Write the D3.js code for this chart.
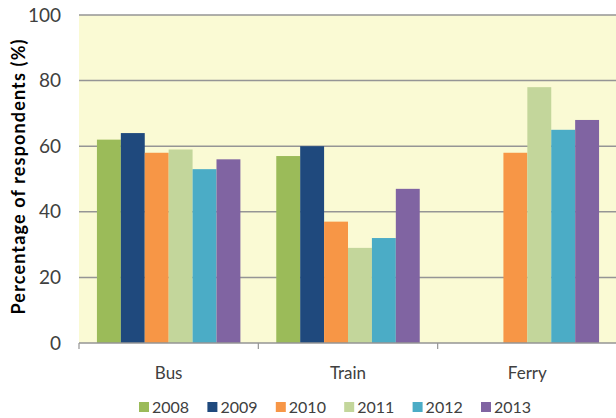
<!DOCTYPE html>
<html><head><meta charset="utf-8">
<script src="https://cdn.jsdelivr.net/npm/d3@7"></script>
<style>body{margin:0;background:#fff;} text{font-family:Lato, "Open Sans", sans-serif;}</style>
</head><body>
<svg id="c" width="616" height="418"></svg>
<script>
const categories = ["Bus", "Train", "Ferry"];
const years = ["2008", "2009", "2010", "2011", "2012", "2013"];
const colors = ["#9BBB59", "#1F497D", "#F79646", "#C3D69B", "#4BACC6", "#8064A2"];
const v2008 = [62, 57, null];
const v2009 = [64, 60, null];
const v2010 = [58, 37, 58];
const v2011 = [59, 29, 78];
const v2012 = [53, 32, 65];
const v2013 = [56, 47, 68];
const series = [v2008, v2009, v2010, v2011, v2012, v2013];
const yTicks = [0, 20, 40, 60, 80, 100];

const svg = d3.select("#c");
const m = {left: 79, top: 15, right: 617, bottom: 343};
const x = d3.scaleBand().domain(categories).range([m.left, m.right]).paddingInner(0).paddingOuter(0);
const y = d3.scaleLinear().domain([0, 100]).range([m.bottom, m.top]);

// background
svg.append("rect").attr("x", m.left).attr("y", m.top).attr("width", m.right - m.left).attr("height", m.bottom - m.top).attr("fill", "#FAFAD4");

// gridlines
svg.append("g").selectAll("line").data(yTicks.filter(d => d > 0)).join("line")
  .attr("x1", m.left).attr("x2", m.right).attr("y1", d => y(d)).attr("y2", d => y(d))
  .attr("stroke", "#959595").attr("stroke-width", 1.5);

// bars
const bw = x.bandwidth();
const inner = d3.scaleBand().domain(years).range([bw * 0.1, bw * 0.9]);
years.forEach((yr, i) => {
  svg.append("g").selectAll("rect").data(categories.map((c, j) => ({c, v: series[i][j]})).filter(d => d.v != null)).join("rect")
    .attr("x", d => x(d.c) + inner(yr))
    .attr("y", d => y(d.v))
    .attr("width", inner.bandwidth())
    .attr("height", d => y(0) - y(d.v))
    .attr("fill", colors[i]);
});

// x axis
const gx = svg.append("g").attr("transform", `translate(0,${m.bottom})`);
gx.append("line").attr("x1", m.left).attr("x2", m.right).attr("stroke", "#959595").attr("stroke-width", 1.5);
const bounds = [m.left, ...categories.map(c => x(c) + bw)];
gx.selectAll("line.tk").data(bounds).join("line").attr("class", "tk")
  .attr("x1", d => d).attr("x2", d => d).attr("y1", 0).attr("y2", 6).attr("stroke", "#959595").attr("stroke-width", 1.2);
gx.selectAll("text.cat").data(categories).join("text").attr("class", "cat")
  .attr("x", d => x(d) + bw / 2).attr("y", 36).attr("text-anchor", "middle")
  .attr("font-size", 17).attr("fill", "#404040").text(d => d);

// y axis labels
svg.append("g").selectAll("text").data(yTicks).join("text")
  .attr("x", 61).attr("y", d => y(d)).attr("dy", "0.35em").attr("text-anchor", "end")
  .attr("font-size", 19).attr("fill", "#404040").text(d => d);

// y title
svg.append("text").attr("transform", `translate(25,177) rotate(-90)`).attr("text-anchor", "middle")
  .attr("font-size", 18).attr("font-weight", "bold").attr("fill", "#000")
  .attr("textLength", 275).attr("lengthAdjust", "spacing")
  .text("Percentage of respondents (%)");

// legend
const lx = d3.scalePoint().domain(years).range([139, 481]);
const lg = svg.append("g").selectAll("g").data(years).join("g").attr("transform", d => `translate(${lx(d)},407)`);
lg.append("rect").attr("x", 0).attr("y", -5).attr("width", 10).attr("height", 10).attr("fill", (d, i) => colors[i]);
lg.append("text").attr("x", 13).attr("y", 0).attr("dy", "0.36em").attr("font-size", 16).attr("fill", "#404040").text(d => d);
</script>
</body></html>
